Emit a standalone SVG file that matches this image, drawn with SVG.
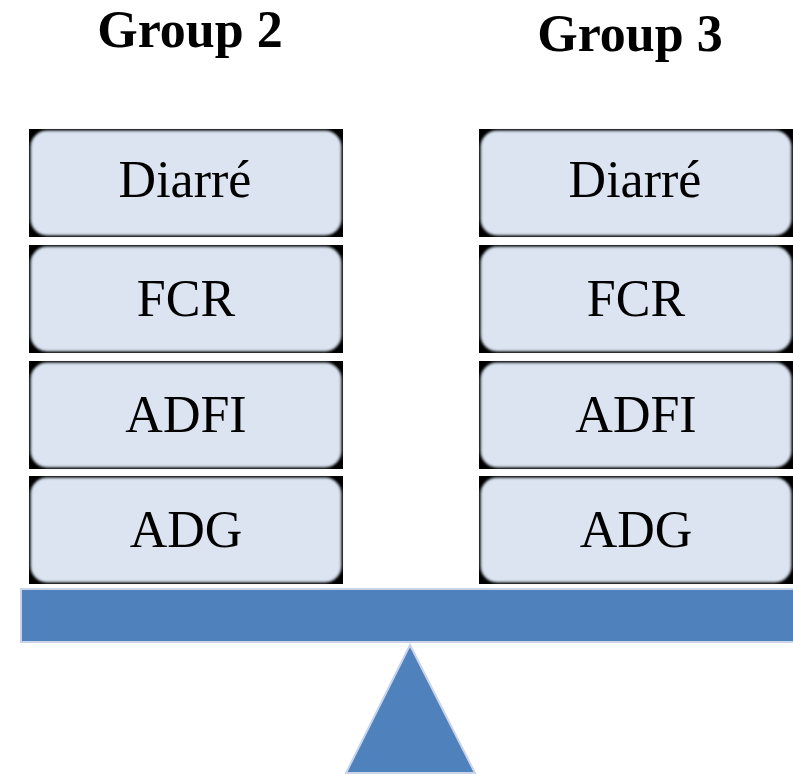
<svg xmlns="http://www.w3.org/2000/svg" width="793" height="774" viewBox="0 0 793 774">
<defs>
<filter id="soft" x="-5%" y="-5%" width="110%" height="110%"><feGaussianBlur stdDeviation="1.2"/></filter>
</defs>
<style>
.t{font-family:"Liberation Serif","Times New Roman",serif;font-size:52px;fill:#000;text-anchor:middle}
.h{font-family:"Liberation Serif","Times New Roman",serif;font-size:52px;font-weight:bold;fill:#000;text-anchor:middle}
.bk{fill:#000}
.bx{fill:#dbe4f0;stroke:#9aa3ad;stroke-width:1.5;filter:url(#soft)}
.bx2{fill:#dbe4f0}
.blue{fill:#4f81bd;stroke:#c9d4e9;stroke-width:2}
</style>
<rect width="793" height="774" fill="#fff"/>
<text class="h" x="190" y="47">Group 2</text>
<text class="h" x="630" y="51">Group 3</text>
<g id="l1"><rect class="bk" x="29" y="129" width="314" height="108"/><rect class="bx" x="31" y="131" width="310" height="104" rx="16"/><rect class="bx2" x="34" y="134" width="304" height="98" rx="14"/><text class="t" x="185" y="197">Diarré</text></g>
<g id="l2"><rect class="bk" x="29" y="245" width="314" height="108"/><rect class="bx" x="31" y="247" width="310" height="104" rx="16"/><rect class="bx2" x="34" y="250" width="304" height="98" rx="14"/><text class="t" x="186" y="316">FCR</text></g>
<g id="l3"><rect class="bk" x="29" y="361" width="314" height="108"/><rect class="bx" x="31" y="363" width="310" height="104" rx="16"/><rect class="bx2" x="34" y="366" width="304" height="98" rx="14"/><text class="t" x="186" y="432">ADFI</text></g>
<g id="l4"><rect class="bk" x="29" y="476" width="314" height="108"/><rect class="bx" x="31" y="478" width="310" height="104" rx="16"/><rect class="bx2" x="34" y="481" width="304" height="98" rx="14"/><text class="t" x="186" y="547">ADG</text></g>
<g id="r1"><rect class="bk" x="479" y="129" width="314" height="108"/><rect class="bx" x="481" y="131" width="310" height="104" rx="16"/><rect class="bx2" x="484" y="134" width="304" height="98" rx="14"/><text class="t" x="635" y="197">Diarré</text></g>
<g id="r2"><rect class="bk" x="479" y="245" width="314" height="108"/><rect class="bx" x="481" y="247" width="310" height="104" rx="16"/><rect class="bx2" x="484" y="250" width="304" height="98" rx="14"/><text class="t" x="636" y="316">FCR</text></g>
<g id="r3"><rect class="bk" x="479" y="361" width="314" height="108"/><rect class="bx" x="481" y="363" width="310" height="104" rx="16"/><rect class="bx2" x="484" y="366" width="304" height="98" rx="14"/><text class="t" x="636" y="432">ADFI</text></g>
<g id="r4"><rect class="bk" x="479" y="476" width="314" height="108"/><rect class="bx" x="481" y="478" width="310" height="104" rx="16"/><rect class="bx2" x="484" y="481" width="304" height="98" rx="14"/><text class="t" x="636" y="547">ADG</text></g>
<g id="beam"><rect class="blue" x="21" y="589" width="780" height="53"/></g>
<g id="fulcrum"><polygon class="blue" points="410,645 475,773 346,773"/></g>
<g id="connectors"></g>
</svg>
